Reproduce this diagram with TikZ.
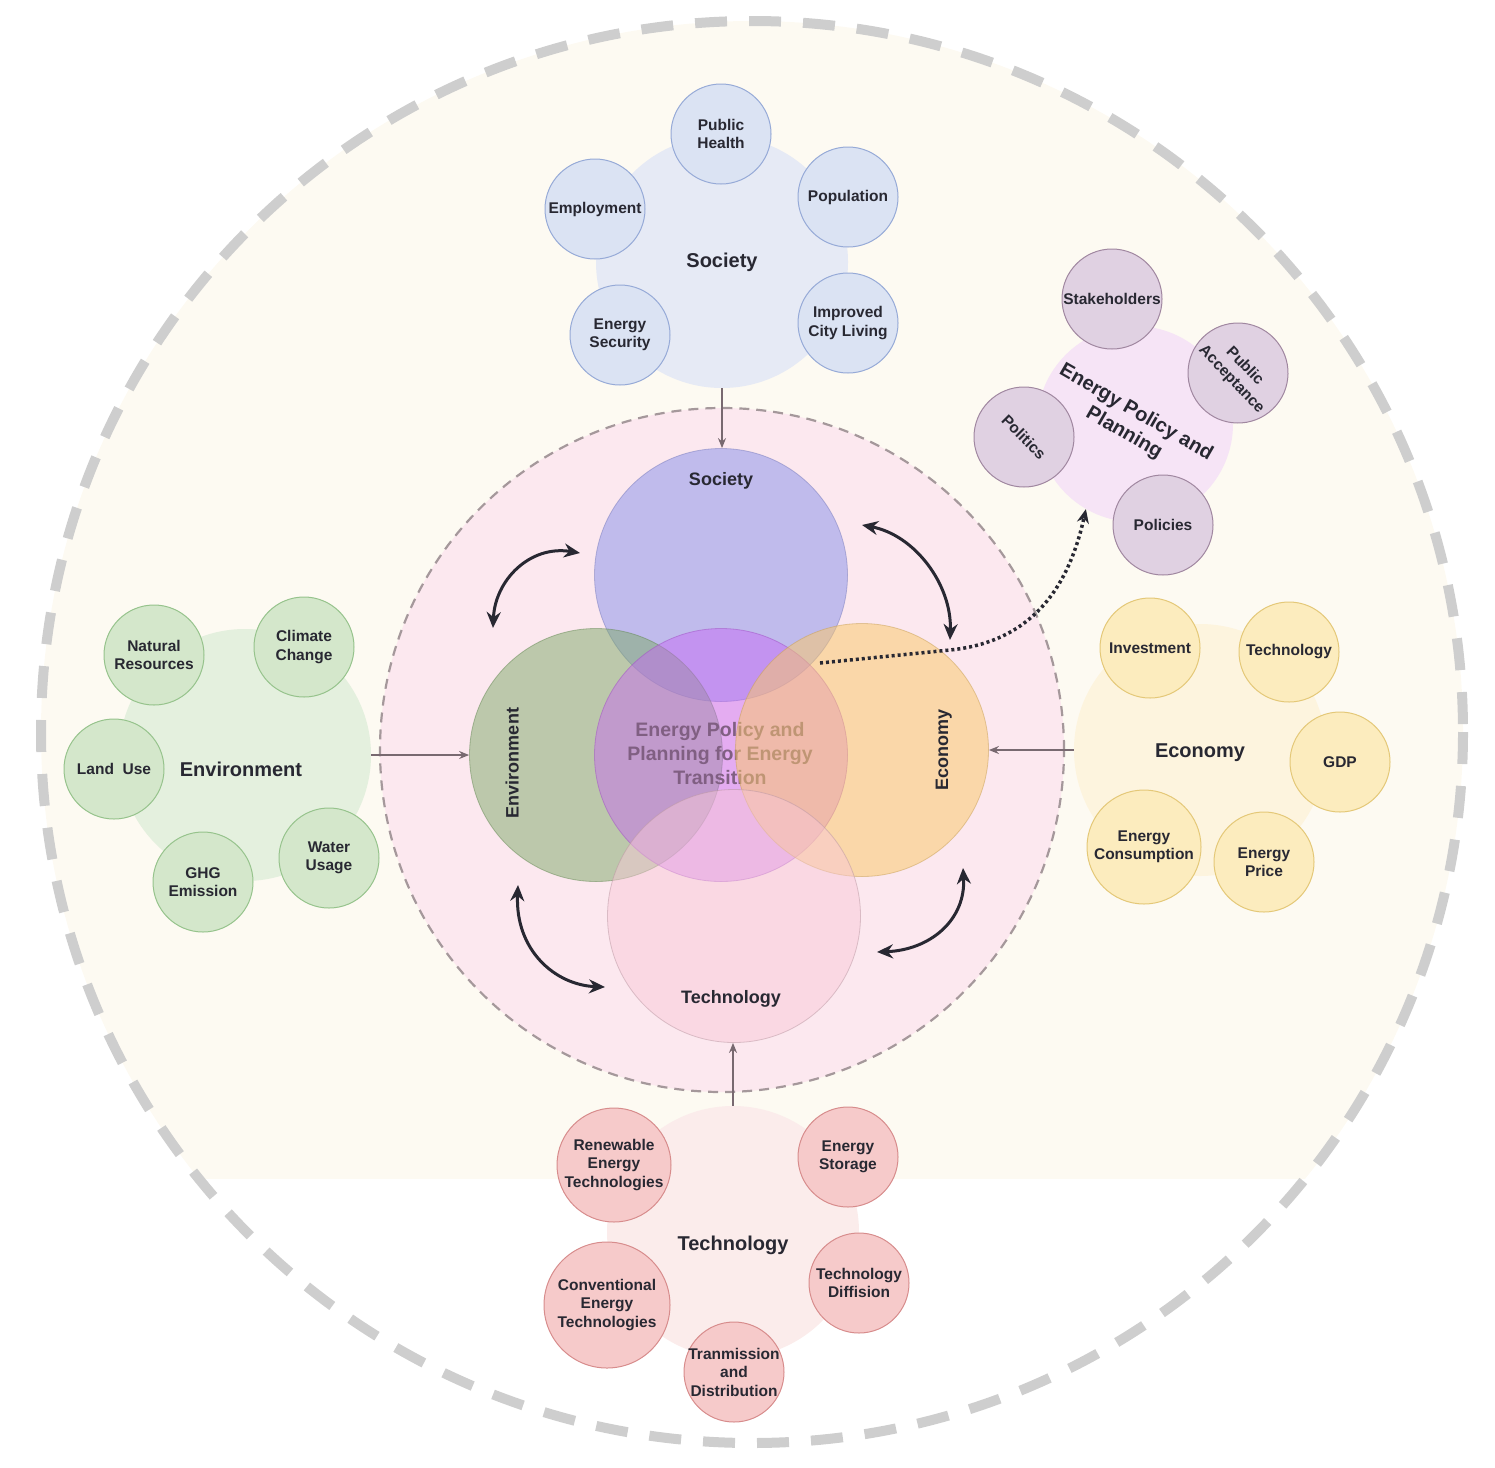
\documentclass[tikz,border=0pt]{standalone}
\usepackage{fontspec}
\setmainfont{Liberation Sans}
\usepackage{xcolor}
\usepackage{tikz}
\usetikzlibrary{arrows.meta,positioning,calc}
\definecolor{bgcream}{RGB}{253,250,242}
\definecolor{ringgray}{RGB}{206,206,206}
\definecolor{innerpink}{RGB}{252,232,239}
\definecolor{innerdash}{RGB}{165,152,155}
\definecolor{feedgray}{RGB}{120,105,112}
\definecolor{txtdark}{RGB}{40,40,50}
\definecolor{midtxt}{RGB}{128,95,130}
\definecolor{socHub}{RGB}{230,234,245}
\definecolor{socItem}{RGB}{219,227,243}
\definecolor{socLine}{RGB}{150,170,215}
\definecolor{envHub}{RGB}{228,240,222}
\definecolor{envItem}{RGB}{212,231,203}
\definecolor{envLine}{RGB}{150,195,140}
\definecolor{ecoHub}{RGB}{253,244,222}
\definecolor{ecoItem}{RGB}{252,236,190}
\definecolor{ecoLine}{RGB}{228,200,120}
\definecolor{tecHub}{RGB}{251,236,235}
\definecolor{tecItem}{RGB}{246,202,202}
\definecolor{tecLine}{RGB}{215,140,140}
\definecolor{eppHub}{RGB}{246,228,246}
\definecolor{eppItem}{RGB}{224,209,226}
\definecolor{eppLine}{RGB}{160,135,160}
\definecolor{socFill}{RGB}{150,155,235}
\definecolor{envFill}{RGB}{125,170,105}
\definecolor{purpFill}{RGB}{200,100,245}
\definecolor{ecoFill}{RGB}{250,200,105}
\definecolor{tecFill}{RGB}{248,200,215}
\newcommand{\itemfont}{\fontsize{15.5}{18.5}\selectfont\bfseries}
\newcommand{\hubfont}{\fontsize{20}{24}\selectfont\bfseries}
\newcommand{\corefont}{\fontsize{18}{22}\selectfont\bfseries}
\newcommand{\midfont}{\fontsize{19.5}{24}\selectfont\bfseries}
\tikzset{
  item/.style={circle, draw, line width=1pt, minimum size=100pt, inner sep=-8pt, align=center, font=\itemfont, text=txtdark},
  hub/.style={circle, minimum size=252pt, inner sep=0pt, align=center, font=\hubfont, text=txtdark},
  core/.style={circle, draw, line width=0.8pt, fill opacity=0.58, draw opacity=0.5, text opacity=1, minimum size=253pt, inner sep=0pt},
  corelbl/.style={font=\corefont, text=txtdark, inner sep=0pt},
  feed/.style={-{Stealth[length=10pt,width=8pt]}, line width=1.5pt, draw=feedgray},
  link/.style={{Stealth[length=16pt,width=14pt]}-{Stealth[length=16pt,width=14pt]}, line width=3pt, draw=txtdark},
  policyflow/.style={-{Stealth[length=14pt,width=12pt]}, line width=3.5pt, draw=txtdark, dash pattern=on 3pt off 3pt}
}

\begin{document}
\begin{tikzpicture}[x=1pt, y=-1pt]
        \useasboundingbox (0,0) rectangle (1495,1467);
        % outer field and ring
        \begin{scope}
          \clip (0,0) rectangle (1495,1178);
          \fill[bgcream] (752,732) circle (711);
        \end{scope}
        \draw[ringgray, line width=10pt, dash pattern=on 32pt off 22pt] (752,732) circle (711);
        % inner field
        \node[circle, minimum size=684pt, fill=innerpink, draw=innerdash, line width=2.2pt, dash pattern=on 10pt off 7pt] (field) at (722,750) {};

        % Society cluster
        \node[hub, fill=socHub] (socC) at (722,262) {Society};
        \node[item, fill=socItem, draw=socLine] (pubH) at (721,134) {Public\\Health};
        \node[item, fill=socItem, draw=socLine] (popu) at (848,197) {Population};
        \node[item, fill=socItem, draw=socLine] (city) at (848,323) {Improved\\City Living};
        \node[item, fill=socItem, draw=socLine] (esec) at (620,335) {Energy\\Security};
        \node[item, fill=socItem, draw=socLine] (empl) at (595,209) {Employment};

        % Energy policy cluster
        \node[hub, fill=eppHub, minimum size=196pt] (epp) at (1135,424) {};
        \node[hub, rotate=-30] (eppT) at (1130,423) {Energy Policy and\\Planning};
        \node[item, fill=eppItem, draw=eppLine] (stak) at (1112,299) {Stakeholders};
        \node[item, fill=eppItem, draw=eppLine, rotate=-46] (pacc) at (1238,373) {Public\\Acceptance};
        \node[item, fill=eppItem, draw=eppLine, rotate=-45] (poli) at (1024,437) {Politics};
        \node[item, fill=eppItem, draw=eppLine] (pols) at (1163,525) {Policies};

        % Environment cluster
        \node[hub, fill=envHub] (envC) at (245,755) {};
        \node[hub] (envT) at (241,769) {Environment};
        \node[item, fill=envItem, draw=envLine] (natR) at (154,655) {Natural\\Resources};
        \node[item, fill=envItem, draw=envLine] (clim) at (304,647) {Climate\\Change};
        \node[item, fill=envItem, draw=envLine] (land) at (114,769) {Land\ \ Use};
        \node[item, fill=envItem, draw=envLine] (ghg) at (203,882) {GHG\\Emission};
        \node[item, fill=envItem, draw=envLine] (watr) at (329,858) {Water\\Usage};

        % Economy cluster
        \node[hub, fill=ecoHub] (ecoC) at (1200,750) {};
        \node[hub] (ecoT) at (1200,753) {Economy};
        \node[item, fill=ecoItem, draw=ecoLine] (inve) at (1150,648) {Investment};
        \node[item, fill=ecoItem, draw=ecoLine] (etec) at (1289,652) {Technology};
        \node[item, fill=ecoItem, draw=ecoLine] (gdp) at (1340,762) {GDP};
        \node[item, fill=ecoItem, draw=ecoLine] (eprc) at (1264,862) {Energy\\Price};
        \node[item, fill=ecoItem, draw=ecoLine, minimum size=114pt] (econ) at (1144,847) {Energy\\Consumption};

        % Technology cluster
        \node[hub, fill=tecHub] (tecC) at (733,1232) {};
        \node[hub] (tecT) at (733,1245) {Technology};
        \node[item, fill=tecItem, draw=tecLine, minimum size=114pt] (rent) at (614,1165) {Renewable\\Energy\\Technologies};
        \node[item, fill=tecItem, draw=tecLine] (stor) at (848,1157) {Energy\\Storage};
        \node[item, fill=tecItem, draw=tecLine, minimum size=126pt] (cont) at (607,1305) {Conventional\\Energy\\Technologies};
        \node[item, fill=tecItem, draw=tecLine] (diff) at (859,1283) {Technology\\Diffision};
        \node[item, fill=tecItem, draw=tecLine] (tran) at (734,1372) {Tranmission\\and\\Distribution};

        % overlapping core circles
        \node[core, fill=socFill, draw=socFill!80!black] (socI) at (721,575) {};
        \node[core, fill=envFill, fill opacity=0.5, draw=envFill!80!black] (envI) at (596,755) {};
        \node[core, fill=purpFill, fill opacity=0.45, draw=purpFill!80!black] (midI) at (721,755) {};
        \node[font=\midfont, text=midtxt, align=center] (midT) at (720,754) {Energy Policy and\\Planning for Energy\\Transition};
        \node[core, fill=ecoFill, fill opacity=0.52, draw=ecoFill!80!black] (ecoI) at (862,750) {};
        \node[core, fill=tecFill, fill opacity=0.48, draw=tecFill!75!black] (tecI) at (734,916) {};
        \node[corelbl] (socL) at ($(socI.north)+(0,33)$) {Society};
        \node[corelbl, rotate=90] (envL) at ($(envI.west)+(43,8)$) {Environment};
        \node[corelbl, rotate=90] (ecoL) at ($(ecoI.east)+(-45,0)$) {Economy};
        \node[corelbl] (tecL) at ($(tecI.south)+(-3,-44)$) {Technology};

        % cluster feeds
        \draw[feed] (socC.south) -- (socC.south |- socI.north);
        \draw[feed] (envC.east) -- (envI.west);
        \draw[feed] (ecoC.west) -- (ecoI.east);
        \draw[feed] (tecC.north) -- (tecC.north |- tecI.south);

        % two-way links
        \coordinate (seA) at (580,553);
        \coordinate (seB) at (493,628);
        \coordinate (scA) at (862,525);
        \coordinate (scB) at (950,640);
        \coordinate (etA) at (518,885);
        \coordinate (etB) at (605,987);
        \coordinate (ctA) at (963,868);
        \coordinate (ctB) at (877,952);
        \draw[link] (seA) .. controls (530,545) and (495,580) .. (seB);
        \draw[link] (scA) .. controls (915,535) and (952,585) .. (scB);
        \draw[link] (etA) .. controls (515,950) and (555,985) .. (etB);
        \draw[link] (ctA) .. controls (966,920) and (930,950) .. (ctB);

        % dotted policy arrow
        \coordinate (pol0) at (820,663);
        \draw[policyflow] (pol0) -- (950,650) .. controls (1030,642) and (1068,590) .. (epp.240);
    \end{tikzpicture}
\end{document}
